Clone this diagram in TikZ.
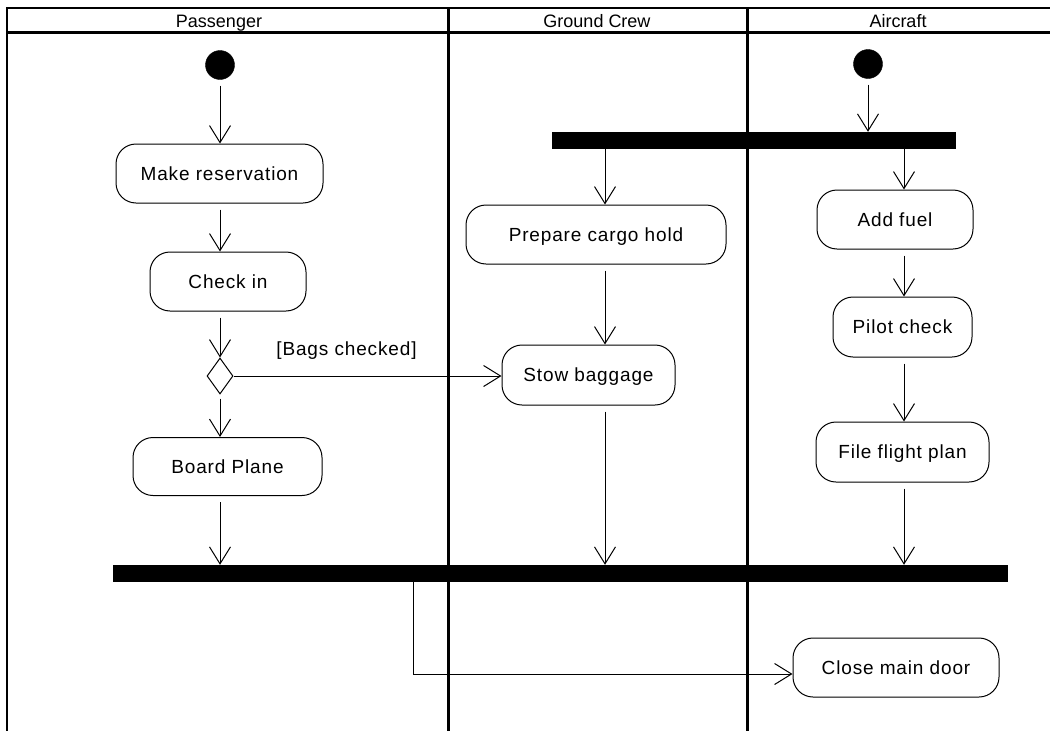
\documentclass[tikz,border=0pt]{standalone}
\usepackage{fontspec}
\setmainfont{Liberation Sans}
\newfontfamily\actfont[LetterSpace=4.5]{Liberation Sans}
\usetikzlibrary{arrows.meta,shapes.geometric}

\begin{document}
\begin{tikzpicture}[x=1pt,y=-1pt,
  lane/.style={line width=3pt},
  frameline/.style={line width=1.6pt},
  lanehead/.style={font=\fontsize{18}{20}\selectfont, anchor=base, inner sep=0pt},
  act/.style={draw, line width=1pt, fill=white, rounded corners=20pt,
    font=\actfont\fontsize{19}{22}\selectfont,
    text height=13.6pt, text depth=0pt, inner sep=0pt},
  guard/.style={font=\actfont\fontsize{19}{22}\selectfont,
    text height=13.6pt, text depth=0pt, inner sep=0pt},
  startdot/.style={circle, fill=black, draw=black, minimum size=29pt, inner sep=0pt},
  syncbar/.style={rectangle, fill=black, inner sep=0pt},
  decision/.style={diamond, draw, line width=1pt, fill=white, inner sep=0pt,
    minimum width=26pt, minimum height=36pt},
  flow/.style={line width=1pt, -{Straight Barb[length=17pt,width=21pt]}},
  plain/.style={line width=1pt}
]
\useasboundingbox (0,0) rectangle (1050,731);

% swimlane frame
\draw[frameline] (6,8) -- (1050,8);
\draw[line width=2pt] (7,8) -- (7,731);
\draw[lane] (7,32) -- (1050,32);
\draw[lane] (448,8) -- (448,731);
\draw[lane] (747,8) -- (747,731);

\node[lanehead] (hP) at (219,27.5) {Passenger};
\node[lanehead] (hG) at (597,27.5) {Ground Crew};
\node[lanehead] (hA) at (898,27.5) {Aircraft};

% lane axes for the vertical flows
\coordinate (xP) at (220,0);
\coordinate (xG) at (605,0);
\coordinate (xA) at (904,0);
\coordinate (turn) at (413,674);

% start states and synchronisation bars
\node[startdot] (pdot) at (220,65) {};
\node[startdot] (adot) at (868,64) {};
\node[syncbar, minimum width=404pt, minimum height=17pt] (fork) at (754,140.5) {};
\node[syncbar, minimum width=895pt, minimum height=17pt] (join) at (560.5,573.5) {};

% activities
\node[act, minimum width=207pt, minimum height=59pt] (mr)  at (219.5,173.5) {Make reservation};
\node[act, minimum width=156pt, minimum height=59pt] (ci)  at (228,281.5) {Check in};
\node[decision] (dia) at (220,376) {};
\node[act, minimum width=189pt, minimum height=58pt] (bp)  at (227.5,466.5) {Board Plane};
\node[act, minimum width=260pt, minimum height=59pt] (pch) at (596,234.5) {Prepare cargo hold};
\node[act, minimum width=173pt, minimum height=60pt] (sb)  at (588.5,375) {Stow baggage};
\node[act, minimum width=156pt, minimum height=59pt] (af)  at (895,219.5) {Add fuel};
\node[act, minimum width=139pt, minimum height=60pt] (pc)  at (902.5,327) {Pilot check};
\node[act, minimum width=173pt, minimum height=60pt] (ffp) at (902.5,452) {File flight plan};
\node[act, minimum width=206pt, minimum height=59pt] (cmd) at (896,667.5) {Close main door};
\node[guard] (bags) at (346.5,349) {[Bags checked]};

% passenger flow
\draw[flow, shorten <=6pt] (pdot.south) -- (pdot |- mr.north);
\draw[flow, shorten <=6pt] (mr.south -| xP) -- (ci.north -| xP);
\draw[flow, shorten <=6pt] (ci.south -| xP) -- (dia.north);
\draw[flow, shorten <=4pt] (dia.south) -- (bp.north -| xP);
\draw[flow, shorten <=6pt] (bp.south -| xP) -- (join.north -| xP);
\draw[flow] (dia.east) -- (dia.east -| sb.west);

% ground crew flow
\draw[flow] (fork.south -| xG) -- (pch.north -| xG);
\draw[flow, shorten <=6pt] (pch.south -| xG) -- (sb.north -| xG);
\draw[flow, shorten <=6pt] (sb.south -| xG) -- (join.north -| xG);

% aircraft flow
\draw[flow, shorten <=6pt] (adot.south) -- (adot |- fork.north);
\draw[flow] (fork.south -| xA) -- (af.north -| xA);
\draw[flow, shorten <=6pt] (af.south -| xA) -- (pc.north -| xA);
\draw[flow, shorten <=6pt] (pc.south -| xA) -- (ffp.north -| xA);
\draw[flow, shorten <=6pt] (ffp.south -| xA) -- (join.north -| xA);

% after the join
\draw[flow] (join.south -| turn) -- (turn) -- (turn -| cmd.west);
\end{tikzpicture}
\end{document}
